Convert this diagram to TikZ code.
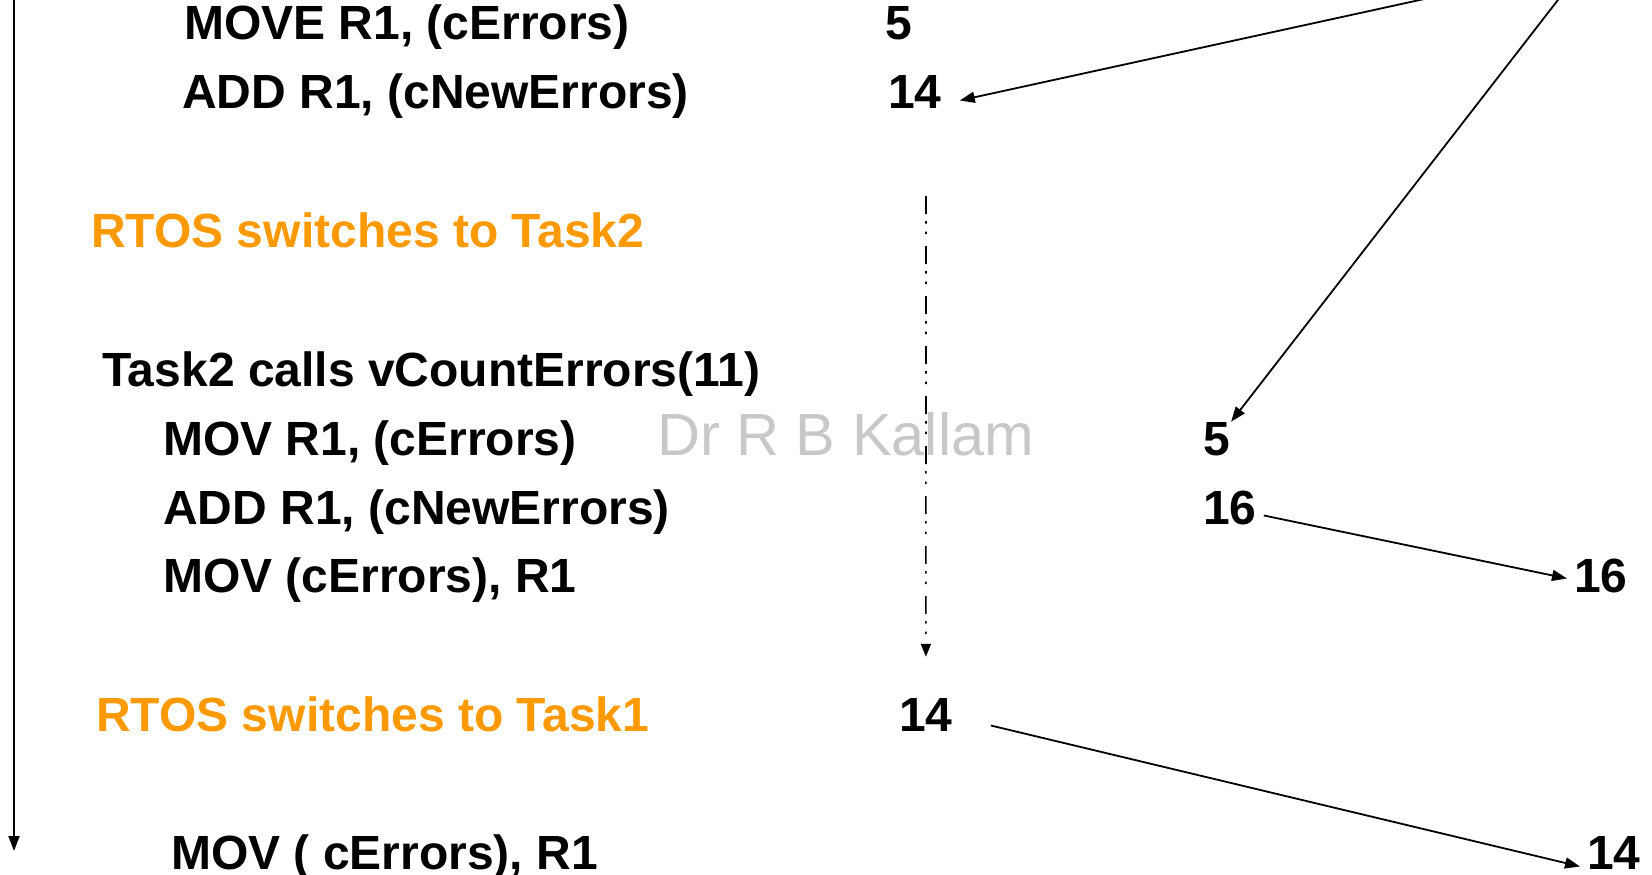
\documentclass[tikz,border=0pt]{standalone}
\usepackage{fontspec}
\setmainfont{Liberation Sans}
\usetikzlibrary{arrows.meta,calc}
\definecolor{rtosorange}{HTML}{FF9900}
\definecolor{markgray}{HTML}{C8C8C8}
\begin{document}
\begin{tikzpicture}[x=1pt,y=-1pt,
  code/.style={anchor=base west, inner sep=0pt,
    font=\fontsize{48}{48}\selectfont\bfseries},
  rtos/.style={code, text=rtosorange},
  wmark/.style={anchor=base west, inner sep=0pt, text=markgray,
    font=\fontsize{59.5}{59.5}\selectfont},
  flow/.style={line width=1.8pt, -{Triangle[length=15pt,width=11pt]}},
  preempt/.style={line width=1.6pt,
    dash pattern=on 18pt off 7pt on 2.5pt off 8pt on 2.5pt off 12pt,
    -{Triangle[length=13pt,width=10pt]}}]
\useasboundingbox (0,0) rectangle (1652,875);

% watermark
\node[wmark] (wm) at (657,455) {Dr R B Kallam};

% Task1, first half of vCountErrors
\node[code] (t1a) at (184,40) {MOVE R1, (cErrors)};
\node[code] (r1a) at (885,40) {5};
\node[code] (t1b) at (182,108) {ADD R1, (cNewErrors)};
\node[code] (r1b) at (888,108) {14};

\node[rtos] (sw2) at (91,247) {RTOS switches to Task2};

% Task2 runs vCountErrors completely
\node[code] (t2) at (102,386) {Task2 calls vCountErrors(11)};
\node[code] (t2a) at (163,455) {MOV R1, (cErrors)};
\node[code] (r2a) at (1203,455) {5};
\node[code] (t2b) at (163,524) {ADD R1, (cNewErrors)};
\node[code] (r2b) at (1203,524) {16};
\node[code] (t2c) at (163,592) {MOV (cErrors), R1};
\node[code] (m16) at (1574,592) {16};

\node[rtos] (sw1) at (96,731) {RTOS switches to Task1};
\node[code] (r1c) at (899,731) {14};

% Task1 resumes
\node[code] (t1c) at (171,869) {MOV ( cErrors), R1};
\node[code] (m14) at (1587,869) {14};

% time axis
\coordinate (tTop) at (14,0);
\coordinate (tEnd) at (14,851);
\draw[flow] (tTop) -- (tEnd);

% memory reads from above
\coordinate (memA) at (1438,-4);
\coordinate (memB) at (1561,-4);
\draw[flow] (memA) -- ($(r1b.east)+(18,9)$);
\draw[flow] (memB) -- ($(r2a.east)+(1,-17)$);

% register writes back to memory
\draw[flow] ($(r2b.east)+(7,8)$) -- ($(m16.west)+(-7,3)$);
\draw[flow] ($(r1c.east)+(38,11)$) -- ($(m14.west)+(-7,14)$);

% Task1 register held while suspended
\coordinate (hold) at (926,196);
\draw[preempt] (hold) -- ($(r1c.north)+(0,-41)$);
\end{tikzpicture}
\end{document}
